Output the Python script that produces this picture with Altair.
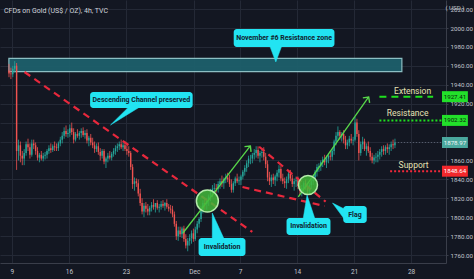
import altair as alt
import pandas as pd

# ------------------------------------------------------------------ data
TITLE = "CFDs on Gold (US$ / OZ), 4h, TVC"

# trading-day index (0 = Mon 9 Nov 2020), weekends removed like TradingView
trading_days = list(range(-1, 34))
bars_per_day = [2] + [6] * 33 + [4]
first_slot = [4] + [0] * 34

opens = [
    1955, 1952,
    1951, 1957, 1960, 1870, 1876, 1865,
    1862, 1868, 1877, 1874, 1866, 1878,
    1876, 1870, 1863, 1866, 1862, 1865,
    1866, 1870, 1873, 1871, 1875, 1874,
    1873, 1878, 1882, 1886, 1891, 1888,
    1889, 1894, 1890, 1882, 1888, 1886,
    1889, 1891, 1887, 1889, 1881, 1884,
    1879, 1876, 1872, 1875, 1869, 1865,
    1870, 1859, 1862, 1865, 1863, 1867,
    1870, 1873, 1875, 1877, 1874, 1876,
    1872, 1870, 1868, 1853, 1835, 1838,
    1836, 1825, 1815, 1806, 1812, 1809,
    1806, 1810, 1813, 1811, 1815, 1810,
    1811, 1814, 1812, 1815, 1811, 1809,
    1808, 1803, 1793, 1780, 1786, 1782,
    1788, 1777, 1770, 1775, 1778, 1783,
    1777, 1787, 1793, 1798, 1808, 1815,
    1814, 1818, 1822, 1826, 1830, 1831,
    1830, 1835, 1838, 1836, 1840, 1842,
    1840, 1835, 1829, 1836, 1841, 1838,
    1839, 1843, 1848, 1852, 1857, 1862,
    1862, 1866, 1868, 1871, 1865, 1868,
    1869, 1864, 1856, 1842, 1838, 1842,
    1839, 1843, 1847, 1851, 1841, 1838,
    1836, 1840, 1846, 1841, 1835, 1838,
    1839, 1833, 1828, 1831, 1836, 1832,
    1828, 1834, 1838, 1842, 1848, 1853,
    1854, 1858, 1861, 1858, 1862, 1865,
    1864, 1870, 1880, 1886, 1890, 1886,
    1888, 1882, 1876, 1879, 1883, 1881,
    1882, 1900, 1888, 1868, 1877, 1880,
    1872, 1875, 1870, 1864, 1860, 1863,
    1864, 1866, 1869, 1872, 1870, 1874,
    1872, 1874, 1877, 1876,
]
highs = [
    1962, 1958,
    1960, 1965, 1963, 1882, 1880, 1870,
    1872, 1880, 1883, 1878, 1882, 1882,
    1879, 1874, 1868, 1870, 1868, 1869,
    1872, 1876, 1878, 1877, 1880, 1878,
    1880, 1885, 1890, 1895, 1897, 1893,
    1898, 1900, 1894, 1890, 1893, 1891,
    1894, 1895, 1892, 1893, 1886, 1888,
    1884, 1880, 1878, 1879, 1873, 1872,
    1872, 1864, 1868, 1870, 1869, 1873,
    1876, 1878, 1880, 1882, 1879, 1880,
    1876, 1875, 1870, 1856, 1842, 1841,
    1840, 1830, 1820, 1815, 1816, 1814,
    1812, 1816, 1819, 1815, 1818, 1814,
    1817, 1818, 1816, 1819, 1814, 1813,
    1812, 1806, 1796, 1790, 1790, 1790,
    1791, 1782, 1778, 1782, 1786, 1788,
    1790, 1796, 1800, 1812, 1818, 1820,
    1820, 1824, 1830, 1834, 1836, 1835,
    1838, 1841, 1844, 1842, 1846, 1847,
    1845, 1840, 1838, 1843, 1846, 1843,
    1845, 1850, 1855, 1860, 1865, 1866,
    1868, 1872, 1875, 1875, 1870, 1873,
    1874, 1868, 1860, 1848, 1845, 1846,
    1845, 1850, 1855, 1854, 1846, 1842,
    1843, 1849, 1850, 1845, 1841, 1843,
    1843, 1837, 1834, 1838, 1840, 1836,
    1836, 1840, 1845, 1850, 1856, 1857,
    1860, 1864, 1866, 1865, 1868, 1870,
    1872, 1882, 1890, 1896, 1892, 1890,
    1892, 1886, 1882, 1886, 1888, 1885,
    1906, 1904, 1892, 1880, 1885, 1883,
    1878, 1880, 1874, 1868, 1866, 1868,
    1870, 1872, 1875, 1876, 1876, 1878,
    1877, 1880, 1882, 1883,
]
lows = [
    1948, 1946,
    1948, 1953, 1850, 1860, 1858, 1855,
    1855, 1865, 1870, 1862, 1864, 1872,
    1866, 1860, 1858, 1860, 1859, 1861,
    1862, 1867, 1868, 1869, 1870, 1870,
    1870, 1875, 1878, 1883, 1885, 1884,
    1885, 1887, 1878, 1880, 1884, 1882,
    1884, 1885, 1883, 1878, 1875, 1876,
    1873, 1868, 1869, 1866, 1860, 1862,
    1856, 1852, 1858, 1861, 1860, 1864,
    1866, 1869, 1871, 1872, 1870, 1870,
    1866, 1864, 1850, 1830, 1828, 1832,
    1822, 1812, 1803, 1800, 1805, 1802,
    1802, 1806, 1808, 1805, 1808, 1805,
    1808, 1810, 1807, 1809, 1806, 1804,
    1800, 1790, 1776, 1775, 1779, 1778,
    1774, 1767, 1764, 1770, 1772, 1774,
    1775, 1783, 1789, 1795, 1804, 1808,
    1808, 1812, 1817, 1821, 1825, 1826,
    1826, 1830, 1832, 1830, 1836, 1837,
    1832, 1826, 1826, 1833, 1836, 1834,
    1834, 1840, 1844, 1848, 1853, 1856,
    1857, 1861, 1863, 1862, 1858, 1863,
    1860, 1852, 1838, 1834, 1832, 1835,
    1833, 1838, 1842, 1838, 1835, 1831,
    1830, 1836, 1838, 1832, 1828, 1832,
    1830, 1823, 1822, 1826, 1829, 1824,
    1825, 1830, 1834, 1838, 1843, 1848,
    1849, 1853, 1855, 1852, 1857, 1860,
    1860, 1866, 1876, 1882, 1882, 1880,
    1878, 1872, 1872, 1875, 1878, 1876,
    1880, 1885, 1860, 1865, 1872, 1870,
    1865, 1868, 1860, 1857, 1856, 1858,
    1858, 1861, 1864, 1866, 1866, 1868,
    1866, 1870, 1872, 1873,
]
closes = [
    1952, 1951,
    1957, 1960, 1870, 1876, 1865, 1862,
    1868, 1877, 1874, 1866, 1878, 1876,
    1870, 1863, 1866, 1862, 1865, 1866,
    1870, 1873, 1871, 1875, 1874, 1873,
    1878, 1882, 1886, 1891, 1888, 1889,
    1894, 1890, 1882, 1888, 1886, 1889,
    1891, 1887, 1889, 1881, 1884, 1879,
    1876, 1872, 1875, 1869, 1865, 1870,
    1859, 1862, 1865, 1863, 1867, 1870,
    1873, 1875, 1877, 1874, 1876, 1872,
    1870, 1868, 1853, 1835, 1838, 1836,
    1825, 1815, 1806, 1812, 1809, 1806,
    1810, 1813, 1811, 1815, 1810, 1811,
    1814, 1812, 1815, 1811, 1809, 1808,
    1803, 1793, 1780, 1786, 1782, 1788,
    1777, 1770, 1775, 1778, 1783, 1777,
    1787, 1793, 1798, 1808, 1815, 1814,
    1818, 1822, 1826, 1830, 1831, 1830,
    1835, 1838, 1836, 1840, 1842, 1840,
    1835, 1829, 1836, 1841, 1838, 1839,
    1843, 1848, 1852, 1857, 1862, 1862,
    1866, 1868, 1871, 1865, 1868, 1869,
    1864, 1856, 1842, 1838, 1842, 1839,
    1843, 1847, 1851, 1841, 1838, 1836,
    1840, 1846, 1841, 1835, 1838, 1839,
    1833, 1828, 1831, 1836, 1832, 1828,
    1834, 1838, 1842, 1848, 1853, 1854,
    1858, 1861, 1858, 1862, 1865, 1864,
    1870, 1880, 1886, 1890, 1886, 1888,
    1882, 1876, 1879, 1883, 1881, 1882,
    1900, 1888, 1868, 1877, 1880, 1872,
    1875, 1870, 1864, 1860, 1863, 1864,
    1866, 1869, 1872, 1870, 1874, 1872,
    1874, 1877, 1876, 1879,
]

# x-axis ticks (trading-day index) and their labels
tick_days = [0, 5, 10, 16, 20, 25, 30, 35]
tick_labels = ["9", "16", "23", "Dec", "7", "14", "21", "28"]
price_ticks = list(range(1760, 2040, 20))
covered_ticks = [1880, 1900]   # hidden under the price tags in the original

# annotation geometry in (trading day, price)
zone = dict(x=-0.26, x2=34.19, y=1953.8, y2=1968.0)
channel_x = [1.11, 21.08]
channel_p = [1953.5, 1784.4]
flag_up_x = [21.68, 27.51]
flag_up_p = [1874.5, 1816.4]
flag_lo_x = [20.22, 27.42]
flag_lo_p = [1831.9, 1811.8]
arrow_names = ["a1", "a2"]
arrow_x0 = [15.0, 25.11]
arrow_p0 = [1783.3, 1821.4]
arrow_x1 = [20.91, 31.28]
arrow_p1 = [1875.3, 1927.1]
arrow_angle = [38.4, 35.8]
circle_x = [17.14, 25.96]
circle_p = [1817.1, 1834.0]
circle_size = [484, 361]

callout_text = ["November #6 Resistance zone", "Descending Channel preserved",
                "Invalidation", "Invalidation", "Flag"]
callout_x = [19.45, 6.86, 16.37, 24.08, 29.05]
callout_x2 = [28.28, 15.85, 20.48, 27.93, 31.11]
callout_p = [1979.9, 1915.4, 1759.0, 1781.2, 1793.9]
callout_p2 = [1998.9, 1932.3, 1778.0, 1799.2, 1811.8]
pointer_x = [[22.62, 23.65, 23.14], [10.20, 11.14, 8.65], [17.57, 18.59, 17.57],
             [25.54, 26.56, 25.88], [29.14, 29.14, 28.11]]
pointer_p = [[1980.6, 1980.6, 1964.1], [1916.0, 1916.0, 1897.5], [1777.4, 1777.4, 1804.4],
             [1798.6, 1798.6, 1823.5], [1808.7, 1798.1, 1815.0]]

level_names = ["Extension", "Resistance", "Support"]
level_price = [1927.41, 1902.32, 1848.64]
level_x0 = [32.22, 32.22, 33.16]
level_x1 = [36.93, 37.7, 37.7]
level_label_x = [35.13, 34.70, 35.22]
level_label_p = [1933.4, 1910.1, 1855.2]
last_price = 1878.97

tag_price = [1927.41, 1902.32, 1878.97, 1848.64]
tag_text = ["1927.41", "1902.32", "1878.97", "1848.64"]
tag_fill = ["#22e02a", "#22e02a", "#4aa89e", "#f2282c"]
tag_color = ["#0c1a0c", "#0c1a0c", "#eef6f5", "#ffffff"]

# ------------------------------------------------------------------ frames
t = []
for d, n, s0 in zip(trading_days, bars_per_day, first_slot):
    for k in range(n):
        t.append(d + (s0 + k + 0.5) / 6.0)
candles = pd.DataFrame(dict(t=t, open=opens, high=highs, low=lows, close=closes))

W, H = 446, 263
PAD_R, PAD_B = 474 - W, 279 - H
XDOM = [-0.6, 37.62]
YDOM = [1751.6, 2029.6]
PX_PER_UNIT = H / (YDOM[1] - YDOM[0])
PX_PER_DAY = W / (XDOM[1] - XDOM[0])
XS = alt.Scale(domain=XDOM, nice=False, zero=False)
YS = alt.Scale(domain=YDOM, nice=False, zero=False)

BG = "#131722"
GRID = "#242936"
AXIS_TXT = "#c3c6ce"
CYAN = "#22e4f2"
RED = "#e8283c"
GREEN_A = "#58d84a"
LEVEL_GREEN = "#1fe01f"
FONT = "Roboto"

x_label_expr = " : ".join(
    f"datum.value == {d} ? '{l}'" for d, l in zip(tick_days, tick_labels)) + " : ''"
y_label_expr = " || ".join(f"datum.value == {v}" for v in covered_ticks) + \
    " ? '' : format(datum.value, '.2f')"

# identical axis definitions in every layer, so the merged shared axes keep them
XAX = alt.Axis(values=tick_days, labelExpr=x_label_expr, grid=True, gridColor=GRID,
               ticks=False, domainColor="#3a3e4a", labelColor=AXIS_TXT, labelFontSize=6.5,
               labelFont=FONT, labelPadding=5, labelOverlap=False, tickCount=len(tick_days))
YAX = alt.Axis(orient="right", values=price_ticks, labelExpr=y_label_expr, grid=True,
               gridColor=GRID, tickSize=2, tickColor="#3a3e4a", domainColor="#3a3e4a",
               labelColor=AXIS_TXT, labelFontSize=6.2, labelFont=FONT, labelPadding=2,
               labelOverlap=False, tickCount=len(price_ticks))


def X(f="x"):
    return alt.X(f + ":Q", scale=XS, title=None, axis=XAX)


def Y(f="y"):
    return alt.Y(f + ":Q", scale=YS, title=None, axis=YAX)


zone_layer = alt.Chart(pd.DataFrame([zone])).mark_rect(
    fill="#1d5f6b", stroke="#93c8cc", strokeWidth=1.2, opacity=0.95
).encode(x=X("x"), x2="x2:Q", y=Y("y"), y2="y2:Q")

up_cond = alt.condition("datum.close >= datum.open", alt.value("#26a69a"), alt.value("#ef5350"))
wicks = alt.Chart(candles).mark_rule(strokeWidth=0.8).encode(
    x=X("t"), y=Y("low"), y2="high:Q", color=up_cond)
bodies = alt.Chart(candles).mark_bar(size=1.4).encode(
    x=X("t"), y=Y("open"), y2="close:Q", color=up_cond)


def seg_df(name, xs, ps):
    return pd.DataFrame(dict(g=[name] * len(xs), x=xs, y=ps, o=list(range(len(xs)))))


red_df = pd.concat([seg_df("ch", channel_x, channel_p),
                    seg_df("fu", flag_up_x, flag_up_p),
                    seg_df("fl", flag_lo_x, flag_lo_p)])
red_lines = alt.Chart(red_df).mark_line(
    color=RED, strokeWidth=2.2, strokeDash=[7, 5]).encode(
    x=X(), y=Y(), detail="g:N", order="o:Q")

arrow_df = pd.concat([seg_df(n, [a, b], [c, e]) for n, a, b, c, e in
                      zip(arrow_names, arrow_x0, arrow_x1, arrow_p0, arrow_p1)])
arrow_lines = alt.Chart(arrow_df).mark_line(color=GREEN_A, strokeWidth=1.3).encode(
    x=X(), y=Y(), detail="g:N", order="o:Q")
head_df = pd.DataFrame(dict(x=arrow_x1, y=arrow_p1, a=arrow_angle))
heads = alt.Chart(head_df).mark_point(
    shape="M-1,1L0,0L1,1", filled=False, stroke=GREEN_A, strokeWidth=1.4, size=70, opacity=1
).encode(x=X(), y=Y(), angle=alt.Angle("a:Q", scale=None))

circ_df = pd.DataFrame(dict(x=circle_x, y=circle_p, s=circle_size))
circles = alt.Chart(circ_df).mark_point(
    shape="circle", filled=True, fill="#43b83a", fillOpacity=0.85,
    stroke="#b4ecaa", strokeWidth=1.5, opacity=1
).encode(x=X(), y=Y(), size=alt.Size("s:Q", scale=None, legend=None))

ptr_df = pd.concat([seg_df(f"p{i}", xs, ps) for i, (xs, ps) in enumerate(zip(pointer_x, pointer_p))])
pointers = alt.Chart(ptr_df).mark_line(
    filled=True, interpolate="linear-closed", fill=CYAN, stroke=CYAN, strokeWidth=0.5
).encode(x=X(), y=Y(), detail="g:N", order="o:Q")

box_df = pd.DataFrame(dict(x=callout_x, x2=callout_x2, y=callout_p, y2=callout_p2,
                           txt=callout_text,
                           cx=[(a + b) / 2 for a, b in zip(callout_x, callout_x2)],
                           cy=[(a + b) / 2 for a, b in zip(callout_p, callout_p2)]))
boxes = alt.Chart(box_df).mark_rect(fill=CYAN, cornerRadius=3).encode(
    x=X("x"), x2="x2:Q", y=Y("y"), y2="y2:Q")
box_txt = alt.Chart(box_df).mark_text(
    font=FONT, fontSize=7, fontWeight="bold", color="#10222e", baseline="middle"
).encode(x=X("cx"), y=Y("cy"), text="txt:N")

lvl_df = pd.DataFrame(dict(name=level_names, p=level_price, x0=level_x0, x1=level_x1,
                           lx=level_label_x, lp=level_label_p))
ext_line = alt.Chart(lvl_df.iloc[[0]]).mark_rule(
    color=LEVEL_GREEN, strokeWidth=2, strokeDash=[7, 5]).encode(x=X("x0"), x2="x1:Q", y=Y("p"))
res_line = alt.Chart(lvl_df.iloc[[1]]).mark_rule(
    color=LEVEL_GREEN, strokeWidth=2, strokeDash=[2, 2]).encode(x=X("x0"), x2="x1:Q", y=Y("p"))
sup_line = alt.Chart(lvl_df.iloc[[2]]).mark_rule(
    color="#f0283a", strokeWidth=2, strokeDash=[2, 2]).encode(x=X("x0"), x2="x1:Q", y=Y("p"))
lvl_txt = alt.Chart(lvl_df).mark_text(
    font=FONT, fontSize=8.5, color="#e6e2b4", baseline="middle").encode(
    x=X("lx"), y=Y("lp"), text="name:N")

last_df = pd.DataFrame(dict(x0=[max(t)], x1=[XDOM[1]], p=[last_price]))
last_line = alt.Chart(last_df).mark_rule(
    color="#5a6070", strokeWidth=1, strokeDash=[1, 2]).encode(x=X("x0"), x2="x1:Q", y=Y("p"))

half = 5.5 / PX_PER_UNIT
tag_x0 = XDOM[1] + 1 / PX_PER_DAY
tag_x1 = XDOM[1] + (PAD_R - 0.5) / PX_PER_DAY
tag_df = pd.DataFrame(dict(p=tag_price, lo=[v - half for v in tag_price],
                           hi=[v + half for v in tag_price], txt=tag_text,
                           fill=tag_fill, tc=tag_color,
                           x0=[tag_x0] * 4, x1=[tag_x1] * 4,
                           cx=[(tag_x0 + tag_x1) / 2] * 4))
tags = alt.Chart(tag_df).mark_rect().encode(
    x=X("x0"), x2="x1:Q", y=Y("lo"), y2="hi:Q", fill=alt.Fill("fill:N", scale=None))
tag_txt = alt.Chart(tag_df).mark_text(font=FONT, fontSize=6.2, baseline="middle").encode(
    x=X("cx"), y=Y("p"), text="txt:N", color=alt.Color("tc:N", scale=None))

usd_df = pd.DataFrame(dict(x=[(tag_x0 + tag_x1) / 2], y=[2021.1], txt=["( USD )"]))
usd = alt.Chart(usd_df).mark_text(font=FONT, fontSize=6.2, color=AXIS_TXT,
                                  baseline="middle").encode(x=X(), y=Y(), text="txt:N")

chart = alt.layer(
    zone_layer, wicks, bodies, red_lines, arrow_lines, heads, circles,
    pointers, boxes, box_txt, ext_line, res_line, sup_line, lvl_txt, last_line,
    tags, tag_txt, usd,
).properties(
    width=W, height=H,
    title=alt.TitleParams(TITLE, anchor="start", fontSize=7, color="#d1d4dc",
                          font=FONT, fontWeight="normal", offset=-14, dx=4),
    background=BG,
    padding={"left": 0, "top": 0, "right": PAD_R, "bottom": PAD_B},
    autosize=alt.AutoSizeParams(type="none"),
).configure_view(strokeWidth=0).configure_axis(labelOverlap=False)

chart.save("out.html", embed_options={"renderer": "svg", "actions": False})
